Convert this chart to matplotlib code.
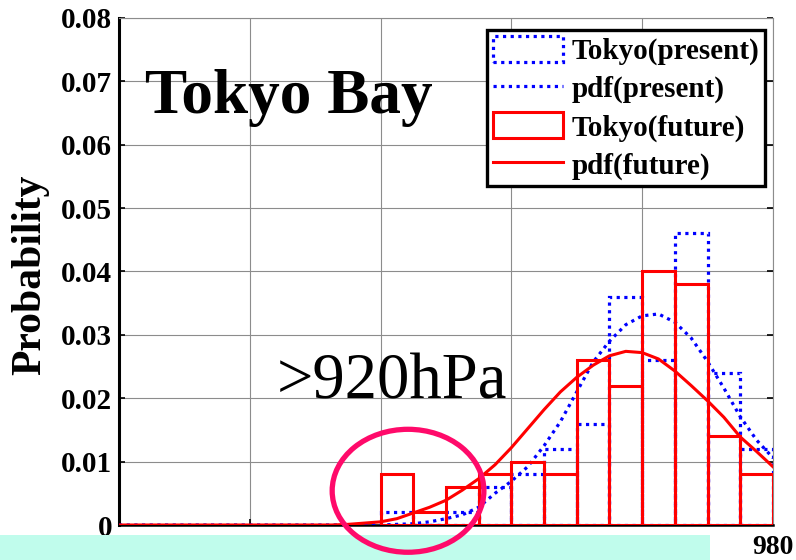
import matplotlib.pyplot as plt
from matplotlib.patches import Ellipse, Rectangle

plt.rcParams['font.family'] = ['Liberation Serif', 'DejaVu Serif']

# histogram bins (hPa), 5 hPa wide
bin_left = [920, 925, 930, 935, 940, 945, 950, 955, 960, 965, 970, 975]
present_prob = [0.002, 0.000, 0.002, 0.006, 0.008, 0.012, 0.016, 0.036, 0.026, 0.046, 0.024, 0.012]
future_prob = [0.008, 0.002, 0.006, 0.008, 0.010, 0.008, 0.026, 0.022, 0.040, 0.038, 0.014, 0.008]

# fitted pdf curves
pdf_x = [880, 900, 912.5, 915, 917.5, 920, 922.5, 925, 927.5, 930, 932.5, 935, 937.5,
         940, 942.5, 945, 947.5, 950, 952.5, 955, 957.5, 960, 962.5, 965, 967.5,
         970, 972.5, 975, 977.5, 980]
pdf_present = [0, 0, 0, 0, 0, 0, 0.0001, 0.0002, 0.0005, 0.0010, 0.0016, 0.0028, 0.0050,
               0.0069, 0.0092, 0.0125, 0.0163, 0.0210, 0.0257, 0.0290, 0.0316, 0.0330,
               0.0333, 0.0320, 0.0295, 0.0258, 0.0216, 0.0171, 0.0134, 0.0106]
pdf_future = [0, 0, 0, 0.0001, 0.0003, 0.0005, 0.0010, 0.0019, 0.0028, 0.0039, 0.0055,
              0.0073, 0.0095, 0.0122, 0.0152, 0.0182, 0.0210, 0.0233, 0.0252, 0.0267,
              0.0274, 0.0272, 0.0262, 0.0243, 0.0220, 0.0196, 0.0170, 0.0139, 0.0116, 0.0092]

xticks = [880, 900, 920, 940, 960, 980]
xtick_labels = ['', '', '', '', '', '980']
yticks = [0, 0.01, 0.02, 0.03, 0.04, 0.05, 0.06, 0.07, 0.08]
ytick_labels = ['0', '0.01', '0.02', '0.03', '0.04', '0.05', '0.06', '0.07', '0.08']

fig = plt.figure(figsize=(7.96, 5.6), dpi=100)
ax = fig.add_axes([0.1495, 0.0625, 0.8215, 0.9054])

dots = (0, (1, 1.4))
bars_p = ax.bar(bin_left, present_prob, width=5, align='edge', fill=False,
                edgecolor='#0000ff', linewidth=2.3, linestyle=dots, zorder=3)
line_p, = ax.plot(pdf_x, pdf_present, color='#0000ff', linewidth=2.3, linestyle=dots, zorder=3)
bars_f = ax.bar(bin_left, future_prob, width=5, align='edge', fill=False,
                edgecolor='#ff0000', linewidth=2.2, zorder=4)
line_f, = ax.plot(pdf_x, pdf_future, color='#ff0000', linewidth=2.2, zorder=4)

ax.set_xlim(880, 980)
ax.set_ylim(0, 0.08)
ax.set_xticks(xticks)
ax.set_xticklabels(xtick_labels)
ax.set_yticks(yticks)
ax.set_yticklabels(ytick_labels)
ax.grid(True, color='#8c8c8c', linewidth=0.8)
ax.set_axisbelow(True)
ax.tick_params(direction='in', length=4, width=1.2, labelsize=21, pad=5)
ax.tick_params(axis='x', labelsize=20, pad=7)
ax.tick_params(right=True)
for lab in ax.get_xticklabels() + ax.get_yticklabels():
    lab.set_fontweight('bold')

ax.spines['left'].set_linewidth(2.2)
ax.spines['bottom'].set_linewidth(1.8)
ax.spines['top'].set_color('#8c8c8c')
ax.spines['right'].set_color('#8c8c8c')
ax.spines['top'].set_linewidth(0.8)
ax.spines['right'].set_linewidth(0.8)

ax.set_ylabel('Probability', fontsize=30, fontweight='bold')
ax.yaxis.set_label_coords(-0.106, 0.493)

ax.text(884, 0.065, 'Tokyo Bay', fontsize=45.5, fontweight='bold', va='baseline')
ax.text(904.2, 0.020, '>920hPa', fontsize=46.5, va='baseline')

leg = ax.legend([bars_p, line_p, bars_f, line_f],
                ['Tokyo(present)', 'pdf(present)', 'Tokyo(future)', 'pdf(future)'],
                loc='upper right', bbox_to_anchor=(0.988, 0.976), borderaxespad=0,
                prop={'size': 21, 'weight': 'bold'}, fancybox=False, framealpha=1,
                edgecolor='black', handlelength=2.4, handleheight=1.0,
                handletextpad=0.3, labelspacing=0.3, borderpad=0.2)
leg.get_frame().set_linewidth(2.4)
leg.set_zorder(6)

# caption strip along the bottom
fig.add_artist(Rectangle((0, 0), 710 / 796, 25 / 560, transform=fig.transFigure,
                         facecolor='#c0fcec', edgecolor='none', zorder=2))

# circle around the >920hPa tail
fig.add_artist(Ellipse((924.2, 0.0054), 23.2, 0.0194, transform=ax.transData,
                       fill=False, edgecolor='#ff0a6a', linewidth=3.8, zorder=3))

fig.savefig('out.png', dpi=100)
